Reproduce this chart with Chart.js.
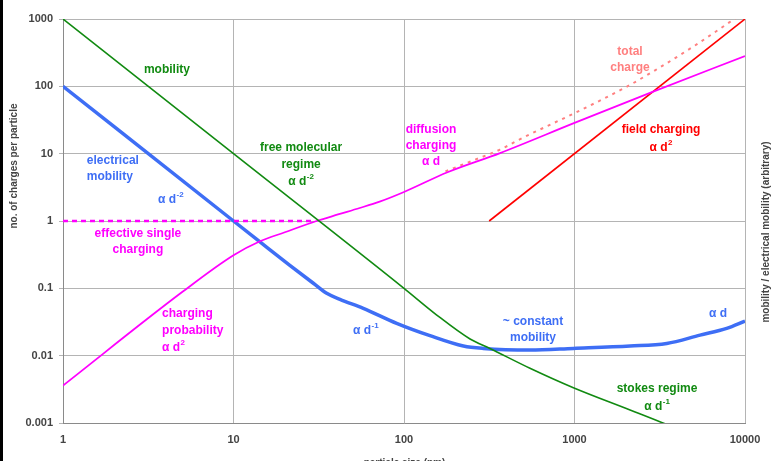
<!DOCTYPE html>
<html>
<head>
<meta charset="utf-8">
<script src="https://cdn.jsdelivr.net/npm/chart.js@4/dist/chart.umd.min.js"></script>
<style>
  html, body { margin: 0; padding: 0; background: #fff; overflow: hidden; }
  #wrap { position: relative; width: 771px; height: 461px; }
</style>
</head>
<body>
<div id="wrap"><canvas id="c" width="771" height="461"></canvas></div>
<script>
// Axis ticks
const xTicks = [1, 10, 100, 1000, 10000];
const yTicks = [0.001, 0.01, 0.1, 1, 10, 100, 1000];

// Mechanical mobility (free molecular -> stokes regime)
const mobilityX = [1, 10, 100, 155, 244, 319, 548, 985, 2118, 3300, 4500];
const mobilityY = [1000, 10, 0.1, 0.0405, 0.0177, 0.0128, 0.0065, 0.00334, 0.00156, 0.001, 0.00072];

// Electrical mobility
const elecMobX = [1, 10, 14.3, 21.4, 29.4, 35.2, 42.1, 57.7, 90.6, 142, 223, 292, 548, 985, 2118, 3475, 5450, 7810, 10000];
const elecMobY = [100, 1, 0.49, 0.22, 0.119, 0.0844, 0.0687, 0.0505, 0.0302, 0.0198, 0.0139, 0.0128, 0.0121, 0.0128, 0.0139, 0.0152, 0.0202, 0.0254, 0.0327];

// Charging probability / diffusion charging
const chargeX = [1, 5, 10, 14.3, 20, 30.7, 41, 55, 72, 100, 180, 366, 1000, 2773, 10000];
const chargeY = [0.0036, 0.088, 0.31, 0.5, 0.68, 1.0, 1.25, 1.56, 1.94, 2.7, 5.3, 10.2, 28.6, 80, 282];

// Effective single charging level
const singleX = [1, 30];
const singleY = [1, 1];

// Field charging
const fieldX = [316, 10000];
const fieldY = [1, 1000];

// Total charge (diffusion + field)
const totalX = [175, 250, 366, 500, 1000, 2000, 3000, 5000, 10000];
const totalY = [5.46, 7.8, 11.5, 17.3, 40, 97, 176, 393, 1282];

const GREEN = '#118a11';
const BLUE = '#3e6ef5';
const MAGENTA = '#ff00ff';
const RED = '#ff0000';
const SALMON = '#ff7f7f';
const FONT = '"Liberation Sans", Arial, Helvetica, sans-serif';
const AXIS_TEXT = '#444444';

const pts = (xs, ys) => xs.map((x, i) => ({ x, y: ys[i] }));

// Text notes, anchored in data coordinates (centre of the first line)
const notes = [
  { lines: ['mobility'], x: 4.07, y: 178, color: GREEN, align: 'center' },
  { lines: ['electrical', 'mobility'], x: 1.38, y: 7.78, color: BLUE, align: 'left' },
  { lines: ['α d^-2'], x: 3.61, y: 2.05, color: BLUE, align: 'left' },
  { lines: ['effective single', 'charging'], x: 2.75, y: 0.641, color: MAGENTA, align: 'center' },
  { lines: ['charging', 'probability', 'α d^2'], x: 3.81, y: 0.0416, color: MAGENTA, align: 'left', gap: 17 },
  { lines: ['free molecular', 'regime', 'α d^-2'], x: 24.9, y: 12.1, color: GREEN, align: 'center', gap: 17 },
  { lines: ['diffusion', 'charging', 'α d'], x: 144, y: 22.5, color: MAGENTA, align: 'center', gap: 16 },
  { lines: ['α d^-1'], x: 50.2, y: 0.0232, color: BLUE, align: 'left' },
  { lines: ['~ constant', 'mobility'], x: 571, y: 0.0316, color: BLUE, align: 'center' },
  { lines: ['α d'], x: 6950, y: 0.0416, color: BLUE, align: 'center' },
  { lines: ['stokes regime', 'α d^-1'], x: 3048, y: 0.0032, color: GREEN, align: 'center', gap: 18 },
  { lines: ['total', 'charge'], x: 2116, y: 324, color: SALMON, align: 'center' },
  { lines: ['field charging', 'α d^2'], x: 3216, y: 22.5, color: RED, align: 'center', gap: 18 }
];

function drawRich(ctx, text, x, y, align, color) {
  const parts = text.split('^');
  const base = parts[0];
  const sup = parts[1] || '';
  ctx.font = 'bold 12px ' + FONT;
  const wb = ctx.measureText(base).width;
  ctx.font = 'bold 8px ' + FONT;
  const ws = sup ? ctx.measureText(sup).width + 0.5 : 0;
  const start = align === 'center' ? x - (wb + ws) / 2 : x;
  ctx.fillStyle = color;
  ctx.textAlign = 'left';
  ctx.textBaseline = 'middle';
  ctx.font = 'bold 12px ' + FONT;
  ctx.fillText(base, start, y);
  if (sup) {
    ctx.font = 'bold 8px ' + FONT;
    ctx.fillText(sup, start + wb + 0.5, y - 5);
  }
}

const notesPlugin = {
  id: 'notes',
  afterDatasetsDraw(chart) {
    const ctx = chart.ctx;
    const xs = chart.scales.x, ys = chart.scales.y;
    ctx.save();
    notes.forEach(n => {
      const px = xs.getPixelForValue(n.x);
      let py = ys.getPixelForValue(n.y);
      const gap = n.gap || 16;
      n.lines.forEach(line => {
        drawRich(ctx, line, px, py, n.align, n.color);
        py += gap;
      });
    });
    ctx.restore();
  },
  afterDraw(chart) {
    const ctx = chart.ctx;
    const area = chart.chartArea;
    ctx.save();
    ctx.fillStyle = AXIS_TEXT;
    ctx.font = 'bold 10px ' + FONT;
    ctx.textAlign = 'center';
    ctx.textBaseline = 'middle';
    // left axis title
    ctx.save();
    ctx.translate(14, 166);
    ctx.rotate(-Math.PI / 2);
    ctx.fillText('no. of charges per particle', 0, 0);
    ctx.restore();
    // right axis title
    ctx.save();
    ctx.translate(766, 232);
    ctx.rotate(-Math.PI / 2);
    ctx.fillText('mobility / electrical mobility (arbitrary)', 0, 0);
    ctx.restore();
    // bottom axis title
    ctx.textBaseline = 'alphabetic';
    ctx.fillText('particle size (nm)', (area.left + area.right) / 2 + 0.5, 465.5);
    // frame edge on the left
    ctx.fillStyle = '#000';
    ctx.fillRect(0, 0, 3, chart.height);
    ctx.restore();
  }
};

const tickFont = { family: FONT, size: 11, weight: 'bold' };

new Chart(document.getElementById('c'), {
  type: 'line',
  data: {
    datasets: [
      { data: pts(mobilityX, mobilityY), borderColor: GREEN, borderWidth: 1.6, cubicInterpolationMode: 'monotone' },
      { data: pts(chargeX, chargeY), borderColor: MAGENTA, borderWidth: 1.8, cubicInterpolationMode: 'monotone' },
      { data: pts(singleX, singleY), borderColor: MAGENTA, borderWidth: 2.5, borderDash: [5, 4], tension: 0 },
      { data: pts(elecMobX, elecMobY), borderColor: BLUE, borderWidth: 3.5, cubicInterpolationMode: 'monotone' },
      { data: pts(fieldX, fieldY), borderColor: RED, borderWidth: 1.6, tension: 0 },
      { data: pts(totalX, totalY), borderColor: SALMON, borderWidth: 2, borderDash: [3, 5], cubicInterpolationMode: 'monotone' }
    ]
  },
  options: {
    responsive: false,
    animation: false,
    devicePixelRatio: 1,
    parsing: false,
    layout: { padding: { top: 19, right: 26, left: 0, bottom: 0 } },
    elements: { point: { radius: 0 }, line: { fill: false } },
    plugins: { legend: { display: false }, tooltip: { enabled: false } },
    scales: {
      x: {
        type: 'logarithmic',
        min: 1, max: 10000,
        afterBuildTicks: s => { s.ticks = xTicks.map(v => ({ value: v })); },
        afterFit: s => { s.height = 38; },
        ticks: { font: tickFont, color: AXIS_TEXT, padding: 10, maxRotation: 0, autoSkip: false,
                 callback: v => String(v) },
        grid: { color: '#b4b4b4', lineWidth: 1, drawTicks: false },
        border: { color: '#8a8a8a', width: 1 }
      },
      y: {
        type: 'logarithmic',
        min: 0.001, max: 1000,
        afterBuildTicks: s => { s.ticks = yTicks.map(v => ({ value: v })); },
        afterFit: s => { s.width = 63; },
        ticks: { font: tickFont, color: AXIS_TEXT, padding: 6, autoSkip: false,
                 callback: v => String(v) },
        grid: { color: '#b4b4b4', lineWidth: 1, tickLength: 4 },
        border: { color: '#8a8a8a', width: 1 }
      }
    }
  },
  plugins: [notesPlugin]
});
</script>
</body>
</html>
